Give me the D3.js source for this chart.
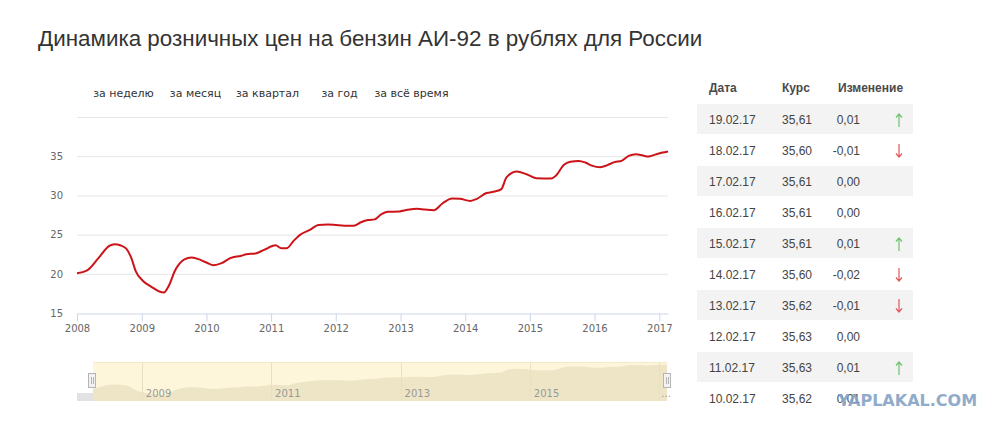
<!DOCTYPE html>
<html>
<head>
<meta charset="utf-8">
<script src="https://cdn.jsdelivr.net/npm/d3@7"></script>
<style>
  html, body { margin: 0; padding: 0; background: #fff; }
  svg { display: block; }
</style>
</head>
<body>
<div id="chart"></div>
<script>
// price of AI-92, rub
const dates = [
  "2008-01-01", "2008-02-25", "2008-05-01", "2008-07-01", "2008-08-01", "2008-09-01",
  "2008-10-05", "2008-11-03", "2008-11-28", "2009-01-05", "2009-02-20", "2009-05-05",
  "2009-06-03", "2009-07-05", "2009-09-01", "2009-10-08", "2009-11-13", "2010-01-01",
  "2010-02-10", "2010-03-28", "2010-05-15", "2010-07-16", "2010-08-15", "2010-10-05",
  "2010-11-22", "2011-01-26", "2011-02-28", "2011-03-29", "2011-05-08", "2011-06-13",
  "2011-08-08", "2011-09-24", "2011-11-18", "2012-01-01", "2012-02-17", "2012-04-12",
  "2012-05-22", "2012-07-01", "2012-08-07", "2012-09-13", "2012-10-19", "2012-12-24",
  "2013-02-10", "2013-04-02", "2013-05-19", "2013-07-08", "2013-08-25", "2013-10-19",
  "2013-12-02", "2014-01-30", "2014-03-08", "2014-05-01", "2014-06-18", "2014-07-24",
  "2014-08-22", "2014-10-19", "2014-12-13", "2015-02-06", "2015-05-01", "2015-05-27",
  "2015-07-13", "2015-08-18", "2015-10-05", "2015-11-10", "2015-12-17", "2016-02-03",
  "2016-03-14", "2016-04-23", "2016-06-02", "2016-07-12", "2016-08-22", "2016-10-01",
  "2016-10-30", "2016-12-09", "2017-01-19", "2017-02-19"
];
const prices = [
  20.08, 20.4, 22.0, 23.56, 23.77, 23.64,
  23.2, 22.0, 20.3, 19.15, 18.4, 17.6,
  18.5, 20.3, 21.86, 22.08, 21.9, 21.44,
  21.1, 21.36, 22.0, 22.3, 22.5, 22.6,
  23.05, 23.64, 23.26, 23.26, 24.2, 24.96,
  25.6, 26.23, 26.3, 26.23, 26.14, 26.14,
  26.57, 26.86, 26.94, 27.57, 27.9, 27.95,
  28.16, 28.3, 28.2, 28.12, 28.97, 29.6,
  29.56, 29.3, 29.56, 30.3, 30.5, 30.8,
  32.3, 33.06, 32.7, 32.2, 32.17, 32.5,
  33.9, 34.28, 34.4, 34.2, 33.8, 33.6,
  33.86, 34.24, 34.4, 35.04, 35.25, 35.08,
  34.96, 35.2, 35.46, 35.61
];
const yTicks = [15, 20, 25, 30, 35, 40];
const xTickYears = [2008, 2009, 2010, 2011, 2012, 2013, 2014, 2015, 2016, 2017];
const navTickYears = [2009, 2011, 2013, 2015, 2017];
const navTickLabels = ["2009", "2011", "2013", "2015", "…"];
const rangeButtons = ["за неделю", "за месяц", "за квартал", "за год", "за всё время"];

// table on the right
const tableHeader = ["Дата", "Курс", "Изменение"];
const tableDates = ["19.02.17", "18.02.17", "17.02.17", "16.02.17", "15.02.17",
                    "14.02.17", "13.02.17", "12.02.17", "11.02.17", "10.02.17"];
const tableRates = ["35,61", "35,60", "35,61", "35,61", "35,61",
                    "35,60", "35,62", "35,63", "35,63", "35,62"];
const tableChanges = ["0,01", "-0,01", "0,00", "0,00", "0,01",
                      "-0,02", "-0,01", "0,00", "0,01", "0,01"];
const tableArrows = ["up", "down", "", "", "up", "down", "down", "", "up", ""];

const parse = d3.timeParse("%Y-%m-%d");
const data = dates.map((d, i) => ({ date: parse(d), value: prices[i] }));

const W = 1000, H = 430;
const svg = d3.select("#chart").append("svg")
    .attr("width", W).attr("height", H)
    .style("font-family", "'DejaVu Sans', sans-serif");

// title
svg.append("text")
    .attr("x", 38).attr("y", 46)
    .style("font-family", "'Liberation Sans', Arial, sans-serif")
    .style("font-size", "22.4px")
    .attr("fill", "#333")
    .text("Динамика розничных цен на бензин АИ-92 в рублях для России");

// range selector buttons
svg.selectAll(".btn").data(rangeButtons).enter().append("text")
    .attr("class", "btn")
    .attr("x", (d, i) => 123.5 + i * 72)
    .attr("y", 97)
    .attr("text-anchor", "middle")
    .style("font-size", "11px")
    .attr("fill", "#333")
    .text(d => d);

// main chart
const x = d3.scaleTime()
    .domain([parse("2008-01-01"), parse("2017-02-19")])
    .range([77, 668]);
const y = d3.scaleLinear().domain([15, 40]).range([313, 117]);

const g = svg.append("g");

g.selectAll(".grid").data(yTicks.slice(1)).enter().append("line")
    .attr("x1", 77).attr("x2", 668)
    .attr("y1", d => y(d) + 0.5).attr("y2", d => y(d) + 0.5)
    .attr("stroke", "#e6e6e6").attr("stroke-width", 1);

const yAxis = g.append("g")
    .attr("transform", "translate(63,0)")
    .call(d3.axisLeft(y).tickValues(yTicks.slice(0, 5)).tickSize(0).tickPadding(0));
yAxis.select(".domain").remove();
yAxis.selectAll("text")
    .style("font-family", "'DejaVu Sans', sans-serif")
    .style("font-size", "10px").attr("fill", "#666");

const xAxis = g.append("g")
    .attr("transform", "translate(0,313.5)")
    .call(d3.axisBottom(x)
        .tickValues(xTickYears.map(v => new Date(v, 0, 1)))
        .tickFormat(d3.timeFormat("%Y"))
        .tickSize(8).tickSizeOuter(0).tickPadding(3));
xAxis.select(".domain").attr("stroke", "#ccd6eb");
xAxis.selectAll(".tick line").attr("stroke", "#ccd6eb");
xAxis.selectAll("text")
    .style("font-family", "'DejaVu Sans', sans-serif")
    .style("font-size", "10px").attr("fill", "#666");

const line = d3.line()
    .x(d => x(d.date)).y(d => y(d.value))
    .curve(d3.curveMonotoneX);

g.append("path").datum(data)
    .attr("d", line)
    .attr("fill", "none")
    .attr("stroke", "#cc1418")
    .attr("stroke-width", 2)
    .attr("stroke-linejoin", "round");

// navigator
const navTop = 362, navBottom = 401, navLeft = 93, navRight = 667;
const ny = d3.scaleLinear().domain([14, 37]).range([navBottom, navTop]);
const nav = svg.append("g");

svg.append("clipPath").attr("id", "navclip").append("rect")
    .attr("x", navLeft).attr("y", navTop)
    .attr("width", navRight - navLeft).attr("height", navBottom - navTop);

nav.append("rect")
    .attr("x", navLeft).attr("y", navTop)
    .attr("width", navRight - navLeft).attr("height", navBottom - navTop)
    .attr("fill", "#fdf6da");

const area = d3.area()
    .x(d => x(d.date)).y0(navBottom).y1(d => ny(d.value))
    .curve(d3.curveMonotoneX);

nav.append("path").datum(data)
    .attr("d", area)
    .attr("clip-path", "url(#navclip)")
    .attr("fill", "#ede5c6");

nav.selectAll(".navgrid").data(navTickYears).enter().append("line")
    .attr("x1", d => Math.round(x(new Date(d, 0, 1))) + 0.5)
    .attr("x2", d => Math.round(x(new Date(d, 0, 1))) + 0.5)
    .attr("y1", navTop).attr("y2", navBottom)
    .attr("stroke", "#e9e0bf");

nav.selectAll(".navlabel").data(navTickYears).enter().append("text")
    .attr("x", (d, i) => i < navTickYears.length - 1 ? x(new Date(d, 0, 1)) + 4 : navRight - 6)
    .attr("y", 397)
    .style("font-size", "10px")
    .attr("fill", "#999")
    .text((d, i) => navTickLabels[i]);

nav.append("line")
    .attr("x1", navLeft).attr("x2", navRight)
    .attr("y1", navTop + 0.5).attr("y2", navTop + 0.5)
    .attr("stroke", "#f1e9c8");

// scrollbar stub
nav.append("rect")
    .attr("x", 77).attr("y", 393).attr("width", navLeft - 77).attr("height", 8)
    .attr("fill", "#e2e2e2");

// handles
[navLeft - 1, navRight].forEach(hx => {
  const h = nav.append("g").attr("transform", `translate(${hx},0)`);
  h.append("rect")
      .attr("x", -3.5).attr("y", 373.5).attr("width", 7).attr("height", 14)
      .attr("fill", "#f2f2f2").attr("stroke", "#b5b5b5");
  [-1, 1].forEach(o => h.append("line")
      .attr("x1", o + 0.5).attr("x2", o + 0.5).attr("y1", 377).attr("y2", 384)
      .attr("stroke", "#b5b5b5"));
});

// table
const tbl = svg.append("g").style("font-family", "'Liberation Sans', Arial, sans-serif");
const colX = [709, 782];
const rowTop = 104, rowH = 31;

tbl.selectAll(".head").data(tableHeader).enter().append("text")
    .attr("x", (d, i) => i < 2 ? colX[i] : 838)
    .attr("y", 92)
    .style("font-size", "12px").style("font-weight", "bold")
    .attr("fill", "#4a4a4a")
    .text(d => d);

const rows = tbl.selectAll(".row").data(tableDates).enter().append("g")
    .attr("transform", (d, i) => `translate(0,${rowTop + i * rowH})`);

rows.filter((d, i) => i % 2 === 0).append("rect")
    .attr("x", 697).attr("y", 0).attr("width", 216).attr("height", 30)
    .attr("fill", "#f3f3f3");

rows.append("text").attr("x", colX[0]).attr("y", 20)
    .style("font-size", "12px").attr("fill", "#444").text(d => d);
rows.append("text").attr("x", colX[1]).attr("y", 20)
    .style("font-size", "12px").attr("fill", "#444").text((d, i) => tableRates[i]);
rows.append("text").attr("x", 860).attr("y", 20).attr("text-anchor", "end")
    .style("font-size", "12px").attr("fill", "#444").text((d, i) => tableChanges[i]);

// arrows drawn as thin strokes
const arrowRows = rows.filter((d, i) => tableArrows[i] !== "");
arrowRows.append("path")
    .attr("d", (d, i, n) => {
      const k = tableDates.indexOf(d);
      return tableArrows[k] === "up"
        ? "M899,10 L899,23 M896,13.5 L899,10 L902,13.5"
        : "M899,9 L899,22 M896,18.5 L899,22 L902,18.5";
    })
    .attr("fill", "none")
    .attr("stroke-width", 1.2)
    .attr("stroke", d => tableArrows[tableDates.indexOf(d)] === "up" ? "#6cc46c" : "#e05a5a");

// watermark
svg.append("text")
    .attr("x", 838).attr("y", 406)
    .style("font-family", "'DejaVu Sans', sans-serif")
    .style("font-size", "16px").style("font-weight", "bold")
    .attr("fill", "#86a3c6").attr("opacity", 0.9)
    .text("YAPLAKAL.COM");
</script>
</body>
</html>
